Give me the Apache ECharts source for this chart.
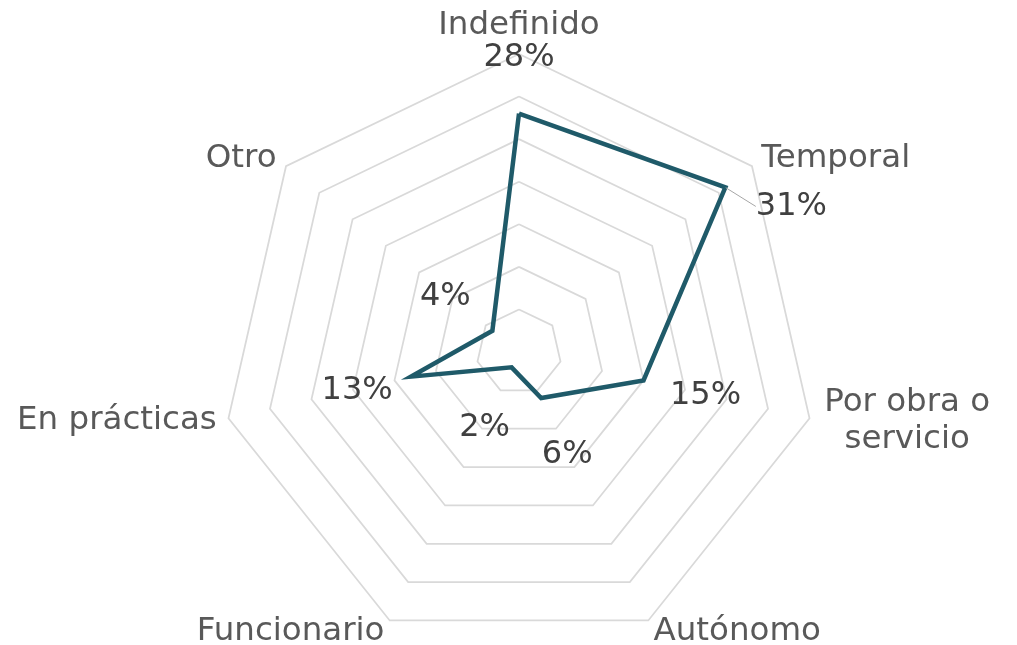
<!DOCTYPE html>
<html>
<head>
<meta charset="utf-8">
<script src="https://cdn.jsdelivr.net/npm/echarts@6/dist/echarts.min.js"></script>
<style>
  html, body { margin: 0; padding: 0; background: #fff; }
  #chart { width: 1017px; height: 645px; }
</style>
</head>
<body>
<div id="chart"></div>
<script>
// clockwise from the top, as in the source chart
const categories = ['Indefinido', 'Temporal', 'Por obra o servicio', 'Autónomo', 'Funcionario', 'En prácticas', 'Otro']
const shares = [28, 31, 15, 6, 2, 13, 4]
const axisMax = 35
const ringCount = 7

// where each % label sits relative to its vertex (px), same order as categories
const labelShift = [[0, -56], [66, 19], [62, 15], [26, 57], [-27, 60], [-54, 14], [-47, -34]]

// echarts walks radar axes counter-clockwise, so reorder
const order = [0, 6, 5, 4, 3, 2, 1]
const font = 'Verdana, "DejaVu Sans", sans-serif'
const lineColor = '#1f5a69'

const chart = echarts.init(document.getElementById('chart'))
const values = order.map(i => shares[i])

// one invisible copy of the polygon per label, so every label can get its own shift
const labelItems = categories.map((c, k) => ({
  value: values,
  name: c,
  symbol: 'circle',
  symbolSize: 1,
  itemStyle: { color: 'rgba(0,0,0,0)' },
  lineStyle: { opacity: 0 },
  label: {
    show: true,
    position: 'inside',
    color: '#404040',
    fontSize: 32,
    fontFamily: font,
    formatter: p => (p.value === shares[k] ? p.value + '%' : '')
  },
  labelLine: {
    show: c === 'Temporal',
    length: 0,
    length2: 0,
    lineStyle: { color: '#a6a6a6', width: 1 }
  }
}))

chart.setOption({
  animation: false,
  radar: {
    center: [519, 352],
    radius: 298,
    startAngle: 90,
    splitNumber: ringCount,
    shape: 'polygon',
    indicator: order.map(i => ({ name: categories[i], min: 0, max: axisMax })),
    nameGap: 12,
    axisName: {
      color: '#595959',
      fontSize: 32.5,
      fontFamily: font,
      formatter: name => (name === 'Por obra o servicio' ? '{c|Por obra o}\n{c|servicio}' : name),
      rich: {
        c: { width: 172, align: 'center', color: '#595959', fontSize: 32.5, fontFamily: font, lineHeight: 37 }
      }
    },
    axisLine: { show: false },
    axisTick: { show: false },
    axisLabel: { show: false },
    splitLine: { lineStyle: { color: '#d9d9d9', width: 1.75 } },
    splitArea: { show: false }
  },
  series: [{
    type: 'radar',
    silent: true,
    labelLayout: p => {
      const k = p.dataIndex - 1
      if (k < 0 || !p.text) return {}
      const [dx, dy] = labelShift[k]
      return { dx, dy }
    },
    data: [
      {
        value: values,
        name: 'main',
        symbol: 'none',
        lineStyle: { color: lineColor, width: 4.5, join: 'miter' },
        label: { show: false }
      },
      ...labelItems
    ]
  }]
})
</script>
</body>
</html>
